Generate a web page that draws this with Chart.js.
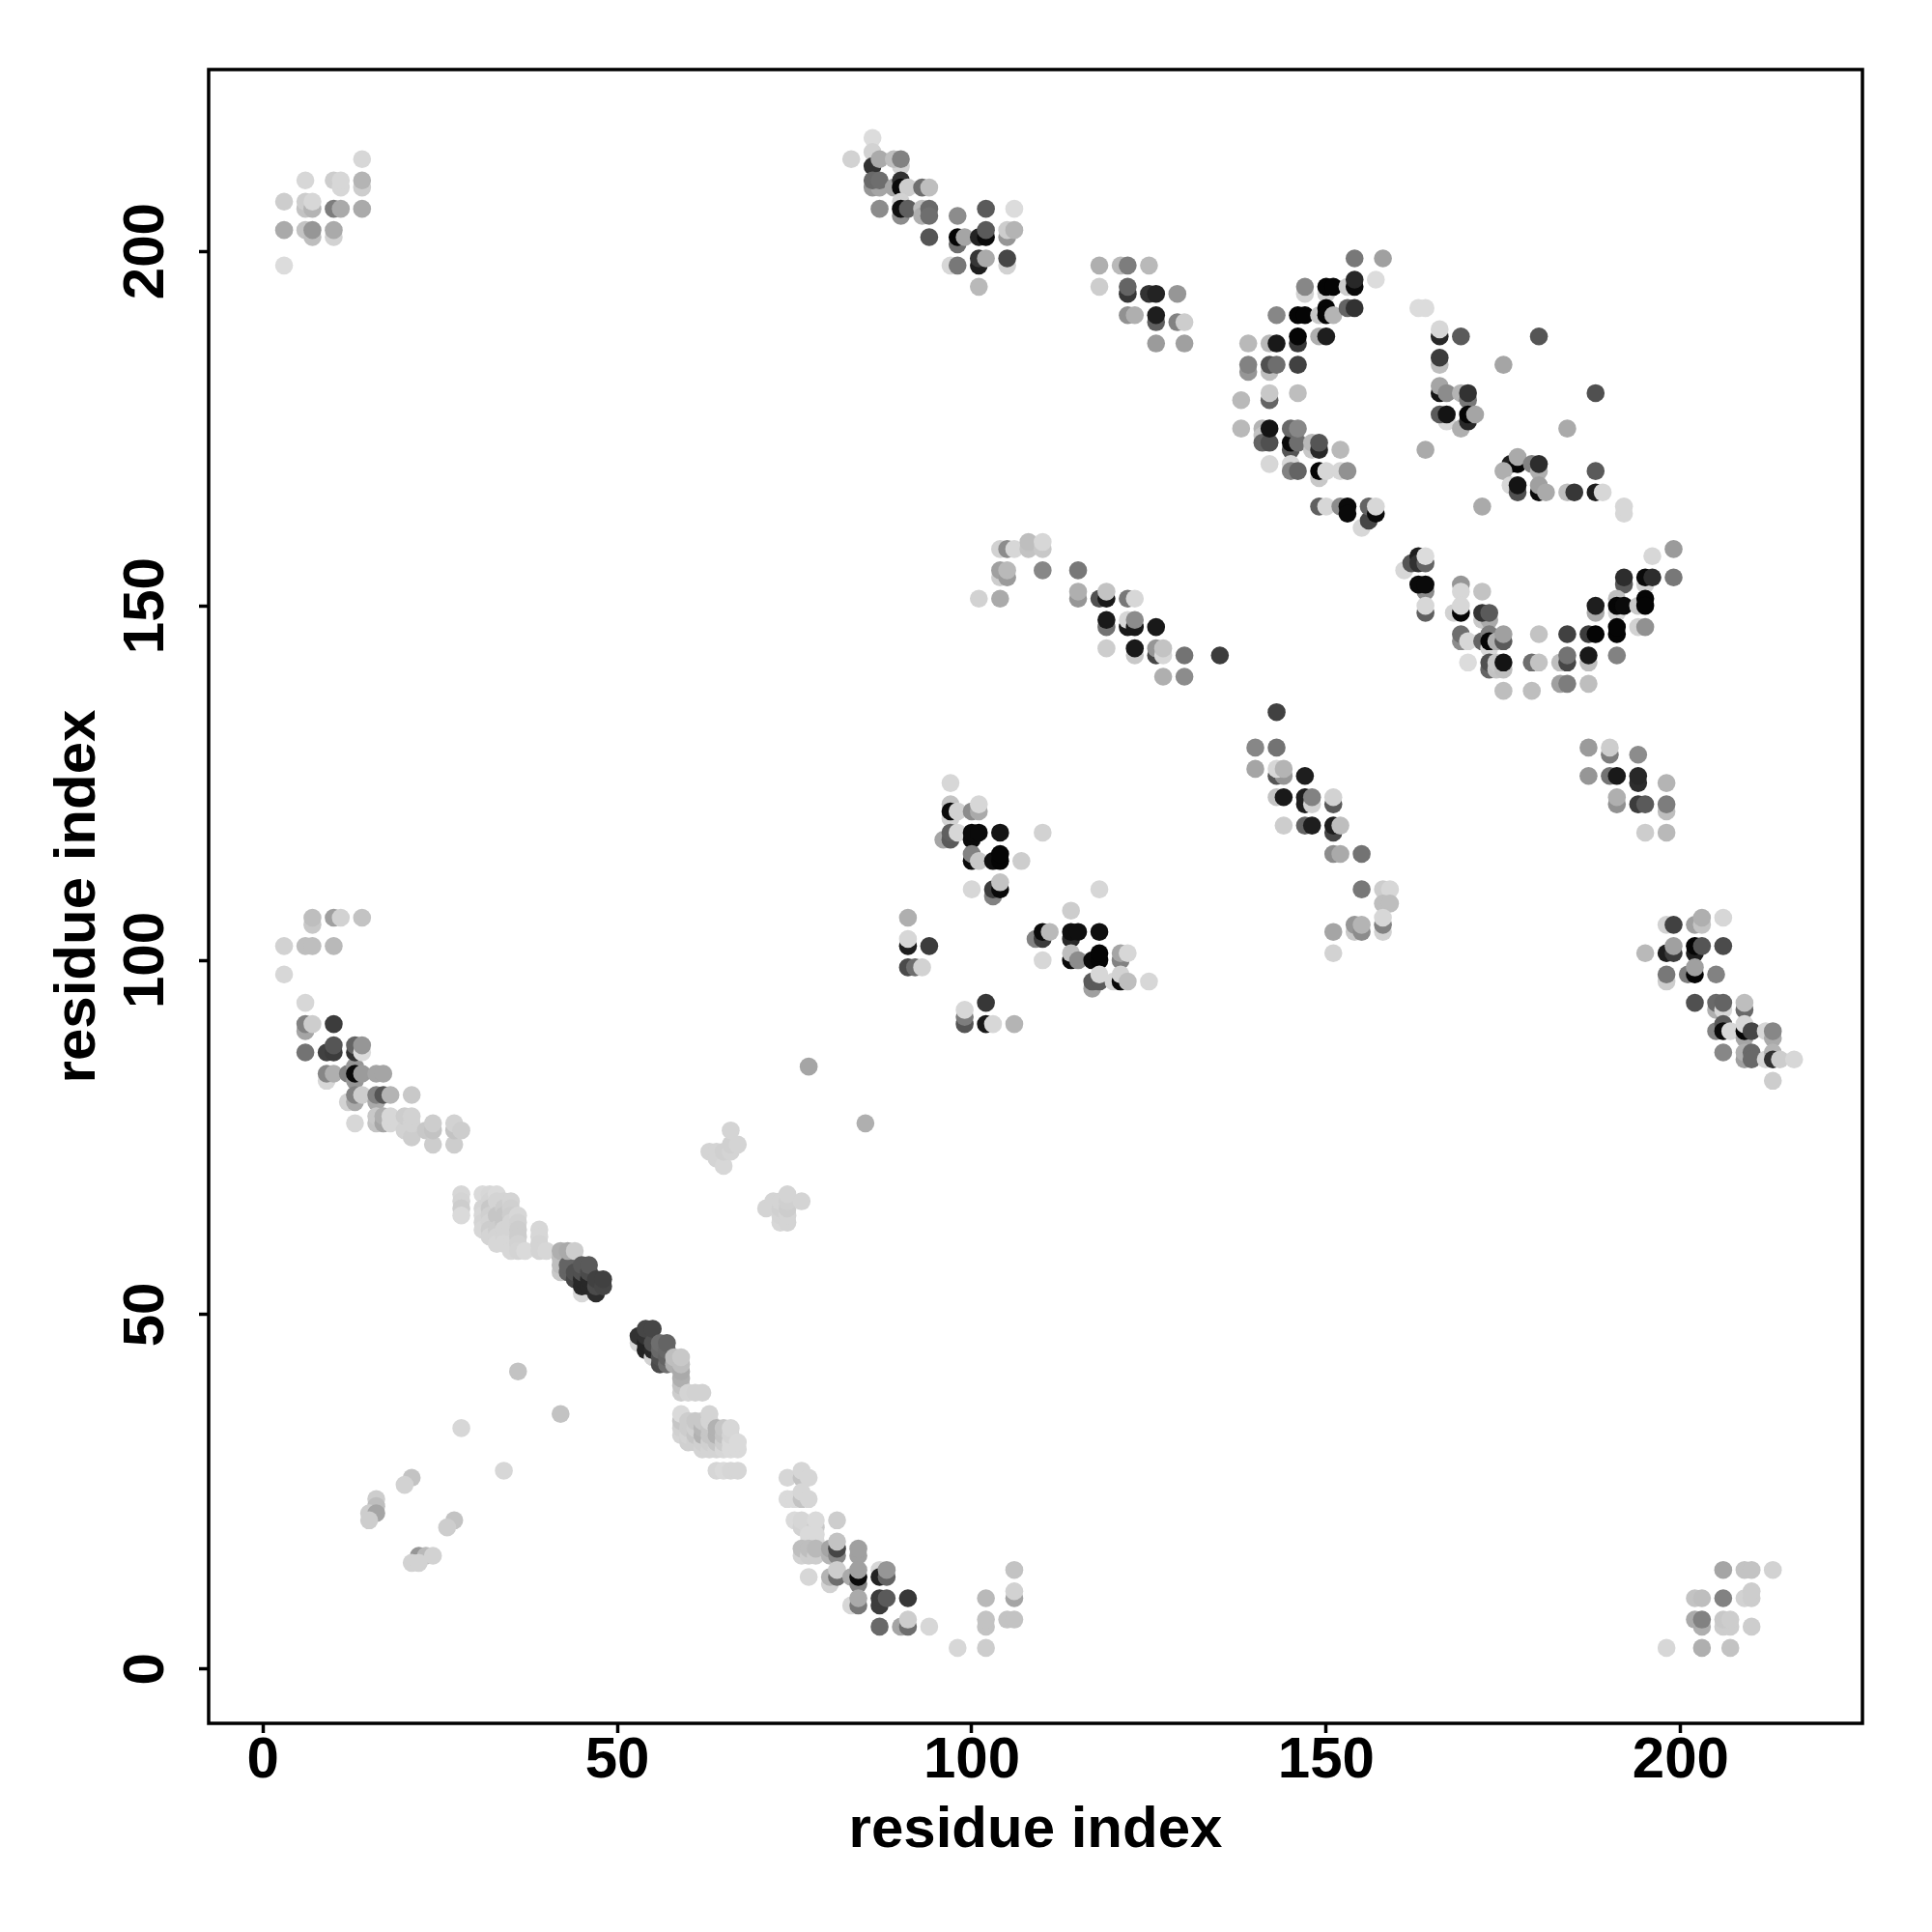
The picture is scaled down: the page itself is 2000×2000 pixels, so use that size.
<!DOCTYPE html>
<html>
<head>
<meta charset="utf-8">
<script src="https://cdn.jsdelivr.net/npm/chart.js@4"></script>
<style>
  html, body { margin: 0; padding: 0; background: #fff; }
  #wrap { width: 2000px; height: 2000px; }
</style>
</head>
<body>
<div id="wrap"><canvas id="contactMap"></canvas></div>
<script>
// each contact is [residue i, residue j, grey level]
const tickValues = [0, 50, 100, 150, 200];
const axisTitle = "residue index";

const topLeftBlock = [
  [14,213,215],[6,210,215],[10,210,205],[11,209,215],[11,210,215],[14,209,205],[14,210,180],[3,207,205],
  [6,206,195],[6,207,205],[7,206,180],[7,207,215],[10,206,125],[11,206,170],[14,206,170],[3,203,170],
  [6,203,195],[7,202,190],[7,203,150],[10,202,210],[10,203,170],[3,198,220]
];
const topStrandA = [
  [86,216,220],[83,213,210],[86,214,210],[86,212,50],[90,212,210],[87,213,170],[89,213,190],[90,213,130],
  [86,209,150],[87,209,165],[86,210,105],[87,210,110],[89,209,165],[90,210,50],[90,209,10],[91,209,205],
  [93,209,110],[94,209,190],[87,206,140],[90,205,140],[90,207,210],[90,206,15],[91,206,95],[93,206,190],
  [93,205,175],[94,206,105],[94,205,110],[94,202,85],[98,205,140],[102,206,90],[106,206,220],[98,201,110],
  [98,202,5],[99,202,165],[101,202,35],[102,202,10],[102,203,90],[105,202,150],[105,203,205],[106,203,180],
  [97,198,215],[98,198,120],[101,198,30],[101,199,55],[102,199,170],[105,198,210],[105,199,70],[101,195,185]
];
const topStrandB = [
  [118,198,175],[121,198,185],[122,198,125],[125,198,185],[118,195,205],[122,194,55],[122,195,100],[125,194,50],
  [126,194,35],[129,194,150],[122,191,145],[123,191,175],[126,190,95],[126,191,30],[129,190,130],[130,190,205],
  [126,187,155],[130,187,160]
];
const arcUpper = [
  [154,199,120],[158,199,160],[157,196,220],[147,194,210],[147,195,135],[150,194,210],[150,195,5],[151,195,5],
  [153,195,205],[154,195,10],[154,196,40],[143,191,135],[146,191,5],[147,191,5],[149,191,200],[150,192,5],
  [150,191,5],[151,191,180],[153,192,100],[154,192,50],[163,192,220],[164,192,220],[139,187,185],[142,187,185],
  [143,187,25],[146,187,55],[146,188,5],[149,188,175],[150,188,30],[139,183,150],[139,184,130],[142,183,190],
  [142,184,80],[143,184,110],[146,184,65],[138,179,185],[142,179,100],[142,180,200],[146,180,190]
];
const arcMiddle = [
  [166,188,40],[166,189,215],[169,188,90],[180,188,85],[166,184,190],[166,185,60],[175,184,165],[166,180,20],
  [166,181,165],[167,180,140],[169,180,180],[170,179,120],[170,180,50],[188,180,80],[167,176,215],[166,177,90],
  [167,177,20],[169,175,175],[170,176,40],[170,177,5],[171,177,165],[184,175,170],[164,172,170]
];
const arcLower = [
  [138,175,185],[141,175,180],[141,174,195],[141,173,100],[142,173,80],[142,175,20],[145,172,85],[145,173,10],
  [145,175,105],[146,173,110],[146,175,135],[148,172,200],[148,173,185],[149,172,40],[149,173,85],[152,172,185],
  [142,170,215],[145,170,215],[145,169,130],[146,169,100],[149,168,200],[149,169,5],[150,169,215],[152,169,215],
  [153,169,145],[149,164,95],[150,164,215],[152,164,140],[153,164,10],[153,163,10],[155,161,215],[156,162,70],
  [156,164,100],[157,163,10],[157,164,215]
];
const arcRight = [
  [176,170,30],[177,170,5],[177,171,170],[175,169,175],[179,170,130],[180,169,175],[180,170,45],[188,169,90],
  [176,167,215],[177,166,80],[177,167,20],[180,166,10],[180,167,160],[181,166,170],[184,166,190],[185,166,55],
  [188,166,30],[189,166,215],[172,164,170],[192,163,215],[192,164,215]
];
const midStrand = [
  [104,158,210],[105,158,140],[106,158,215],[108,158,195],[108,159,190],[110,158,200],[110,159,215],[104,154,205],
  [104,155,160],[105,154,155],[105,155,185],[110,155,135],[115,155,120],[101,151,210],[104,151,170],[115,151,150],
  [115,152,175],[118,151,80],[119,151,25],[119,152,195],[122,151,120],[123,151,215],[119,147,115],[119,148,25],
  [122,147,25],[122,148,215],[123,147,25],[123,148,140],[126,147,25],[119,144,205],[123,143,200],[123,144,25],
  [126,143,70],[126,144,150],[127,143,215],[127,144,195],[130,143,115],[135,143,60],[127,140,175],[130,140,140]
];
const bowlLeft = [
  [161,155,215],[162,156,85],[163,157,30],[163,156,50],[164,156,100],[164,157,220],[164,152,140],[163,153,10],
  [164,153,10],[164,149,95],[164,150,215],[169,153,150],[169,152,215],[172,152,195],[168,149,210],[169,149,5],
  [169,150,215],[172,148,200],[173,148,170],[172,149,50],[173,149,90],[169,145,140],[169,146,110],[170,145,215],
  [172,145,100],[173,146,125],[173,144,215],[173,145,5],[174,145,175],[175,145,90],[175,146,160],[170,142,220],
  [173,141,100],[173,142,80],[174,141,195],[174,142,200],[175,141,190],[175,142,20]
];
const bowlRight = [
  [199,158,155],[196,157,215],[199,154,120],[192,153,90],[192,154,45],[195,153,210],[195,154,10],[196,154,45],
  [188,149,170],[188,150,30],[191,149,215],[191,151,190],[191,150,5],[192,150,10],[194,150,200],[195,151,5],
  [195,150,5],[194,147,210],[195,147,145],[191,146,5],[191,147,5],[184,146,65],[187,146,60],[188,146,5],
  [180,146,195],[191,143,130],[187,142,190],[187,143,25],[183,142,190],[184,142,70],[184,143,115],[179,142,110],
  [180,142,195],[183,139,160],[184,139,125],[187,139,190],[175,138,190],[179,138,190]
];
const crossBlockA = [
  [97,125,215],[97,122,195],[97,120,210],[97,121,10],[98,121,210],[100,121,140],[101,121,170],[101,122,215],
  [96,117,165],[97,117,90],[97,118,95],[98,118,215],[100,117,10],[100,118,10],[101,118,10],[104,118,20],
  [110,118,210],[100,114,10],[100,115,130],[101,114,200],[103,114,15],[104,114,5],[104,115,5],[107,114,205],
  [100,110,215],[103,109,130],[103,110,60],[104,110,10],[104,111,195]
];
const crossBlockB = [
  [118,110,215],[114,107,205],[109,103,130],[110,103,60],[110,104,10],[111,104,185],[114,103,40],[114,104,15],
  [115,104,15],[118,104,15],[110,100,215],[114,100,10],[114,101,190],[115,100,140],[117,100,10],[118,100,5],
  [118,101,5],[121,100,130],[121,101,165],[122,101,215],[117,96,160],[117,97,90],[118,97,90],[118,98,215],
  [120,97,215],[121,97,10],[121,98,210],[122,97,190],[125,97,215]
];
const crossBlockC = [
  [91,106,175],[91,102,30],[91,103,215],[94,102,60],[91,99,75],[92,99,110],[93,99,210],[102,94,55],
  [99,91,85],[99,92,125],[99,93,215],[102,91,25],[103,91,215],[106,91,180]
];
const rightStrandA = [
  [143,135,65],[140,130,135],[143,130,115],[140,127,165],[143,126,85],[144,126,150],[143,127,215],[144,127,180],
  [147,126,30],[143,123,195],[144,123,25],[147,122,30],[147,123,30],[148,122,210],[148,123,130],[151,122,90],
  [151,123,210],[144,119,205],[147,119,100],[148,119,30],[151,118,70],[151,119,30],[152,119,190],[151,115,140],
  [152,115,170],[155,115,115],[155,110,120],[158,110,205],[159,110,215],[158,108,190],[159,108,190],[151,104,165],
  [154,104,200],[154,105,150],[155,104,140],[155,105,180],[158,104,210],[158,105,130],[158,106,215],[151,101,210]
];
const rightStrandB = [
  [187,130,155],[190,129,125],[190,130,205],[194,129,140],[187,126,150],[190,126,115],[191,126,25],[194,125,45],
  [194,126,40],[198,125,180],[191,122,145],[191,123,175],[194,122,60],[195,122,90],[198,121,190],[198,122,125],
  [195,118,205],[198,118,185]
];
const rightEdge = [
  [198,105,210],[199,105,65],[202,105,160],[203,105,195],[203,106,175],[206,106,215],[195,101,185],[198,101,30],
  [199,101,60],[199,102,160],[202,101,30],[202,102,5],[203,102,85],[206,102,75],[198,97,205],[198,98,120],
  [201,98,125],[202,98,5],[202,99,160],[205,98,130],[202,94,80],[205,93,175],[205,94,105],[206,93,215],
  [206,94,100],[209,93,105],[209,94,190],[205,90,130],[206,91,90],[206,90,10],[207,90,215],[209,89,165],
  [209,90,5],[209,91,215],[210,90,70],[212,90,215],[213,89,170],[213,90,135],[206,87,135],[209,86,160],
  [209,87,175],[210,87,105],[210,86,105],[212,86,215],[213,87,180],[213,86,50],[214,86,205],[216,86,215],
  [213,83,205]
];
const leftUpper = [
  [7,105,200],[7,106,190],[10,106,160],[11,106,210],[14,106,195],[3,102,210],[6,102,190],[7,102,190],
  [10,102,185],[3,98,215],[6,94,215],[6,90,165],[6,91,130],[7,91,205],[10,91,60],[6,87,115],
  [9,87,65],[10,87,60],[10,88,85],[13,87,50],[13,88,100],[14,87,220],[14,88,150]
];
const leftStrand = [
  [9,83,215],[9,84,135],[10,84,175],[12,84,130],[13,85,150],[13,83,150],[13,84,10],[14,84,155],
  [16,84,165],[17,84,165],[12,80,210],[13,80,170],[13,81,130],[14,81,205],[16,80,170],[16,81,130],
  [17,81,85],[18,81,180],[21,81,200],[13,77,215],[16,77,195],[16,78,200],[17,77,165],[17,78,175],
  [18,77,215],[18,78,215],[20,76,210],[20,78,205],[21,75,205],[21,77,210],[21,78,210],[23,76,200],
  [24,74,205],[24,76,195],[24,77,205],[27,74,205],[27,76,195],[27,77,210],[28,76,205]
];
const diagonalUpper = [
  [28,67,215],[28,66,212],[28,65,205],[28,64,218],[31,67,218],[31,65,212],[31,64,215],[31,63,212],
  [31,62,215],[32,67,215],[32,66,212],[32,65,200],[32,64,208],[32,63,212],[32,62,205],[32,61,212],
  [33,67,218],[33,66,212],[33,64,198],[33,62,205],[33,61,212],[33,60,215],[34,66,212],[34,65,205],
  [34,64,198],[34,63,198],[34,62,212],[34,61,212],[34,60,215],[35,66,212],[35,65,208],[35,64,205],
  [35,63,212],[35,60,215],[35,59,215],[36,64,215],[36,63,210],[36,62,205],[36,61,205],[36,60,210],
  [36,59,212],[37,59,218],[39,62,215],[39,61,215],[39,60,212],[39,59,212],[40,59,215],[42,56,200],
  [42,57,190],[42,58,190],[42,59,175],[43,56,100],[43,57,100],[43,59,170],[44,59,205],[44,55,70],
  [44,56,80],[45,53,215],[45,54,40],[45,55,40],[45,56,80],[45,57,90],[46,54,40],[46,55,40],
  [46,56,75],[46,57,90],[47,53,45],[47,54,75],[47,55,65],[48,54,70],[48,55,65]
];
const diagonalLower = [
  [53,46,215],[53,47,50],[54,45,35],[54,46,35],[54,47,50],[54,48,70],[55,44,210],[55,45,40],
  [55,46,80],[55,48,70],[56,43,75],[56,44,80],[56,45,105],[56,46,110],[57,43,110],[57,44,100],
  [57,45,105],[57,46,100],[58,43,175],[58,44,190],[59,39,205],[59,40,195],[59,41,175],[59,42,170],
  [59,43,190],[59,44,200],[60,39,212],[61,39,210],[62,39,210],[59,33,212],[59,34,208],[59,35,198],
  [59,36,218],[60,32,208],[60,33,212],[60,34,205],[60,35,205],[61,32,208],[61,33,198],[61,34,208],
  [61,35,200],[62,31,212],[62,32,208],[62,33,178],[62,34,182],[62,35,200],[63,31,212],[63,32,208],
  [63,33,198],[63,34,198],[63,35,212],[63,36,212],[64,31,212],[64,32,198],[64,33,178],[64,34,178],
  [65,31,215],[65,32,205],[65,33,195],[65,34,198],[66,31,218],[66,32,218],[66,33,212],[66,34,215],
  [67,31,218],[67,32,218],[64,28,214],[65,28,218],[66,28,214],[67,28,214]
];
const lowerStrand = [
  [74,27,214],[76,27,195],[76,28,214],[77,27,214],[74,24,218],[75,24,218],[76,24,195],[76,25,214],
  [77,24,214],[75,21,218],[76,20,210],[76,21,214],[77,20,214],[78,20,200],[78,21,218],[81,21,205],
  [77,18,218],[77,19,218],[78,18,218],[78,19,218],[76,16,210],[76,17,190],[77,16,205],[77,17,190],
  [78,16,205],[78,17,185],[80,16,180],[80,17,165],[81,16,135],[81,17,70],[81,18,195],[84,16,160],
  [84,17,160],[77,13,215],[80,12,210],[80,13,180],[81,13,110],[81,14,205],[83,13,170],[84,12,130],
  [84,13,10],[84,14,160],[87,14,215],[87,13,35],[88,13,100],[88,14,150],[83,9,215],[84,9,120],
  [84,10,170],[87,9,60],[87,10,60],[88,10,90],[91,10,55],[87,6,105],[90,6,165],[91,6,110],
  [91,7,205],[94,6,215],[98,3,215],[102,3,205],[102,10,185],[102,6,195],[102,7,195],[105,7,195],
  [106,7,195],[106,14,195],[106,10,165],[106,11,210]
];
const bottomRightBlock = [
  [198,3,215],[203,3,175],[207,3,195],[202,10,195],[203,10,190],[206,10,130],[206,14,165],[209,14,195],
  [210,14,195],[213,14,210],[209,10,210],[210,10,205],[210,11,205],[203,6,175],[202,7,170],[203,7,130],
  [206,6,205],[207,6,205],[206,7,200],[207,7,205],[210,6,205]
];
const offDiagonal = [
  [63,73,212],[64,72,212],[64,73,212],[65,71,215],[65,73,208],[66,73,212],[66,74,208],[66,76,212],
  [67,74,212],[71,65,212],[72,66,212],[73,63,215],[73,64,212],[73,65,208],[73,66,212],[74,63,212],
  [74,64,212],[74,65,205],[74,66,208],[74,67,212],[76,66,212],[77,85,165],[85,77,175],[36,42,195],
  [42,36,195],[28,34,215],[34,28,215],[21,27,195],[20,26,210],[16,24,205],[16,23,190],[15,22,205],
  [16,22,165],[15,21,205],[27,21,195],[26,20,205],[22,16,150],[23,16,185],[24,16,210],[21,15,210],
  [22,15,210]
];

const clusters = [
  topLeftBlock, topStrandA, topStrandB, arcUpper, arcMiddle, arcLower, arcRight, midStrand,
  bowlLeft, bowlRight, crossBlockA, crossBlockB, crossBlockC, rightStrandA, rightStrandB, rightEdge,
  leftUpper, leftStrand, diagonalUpper, diagonalLower, lowerStrand, bottomRightBlock, offDiagonal
];

const axisFont = { family: "'Liberation Sans'", size: 60, weight: "bold" };

// R style closed box round the plot
const boxPlugin = {
  id: "box",
  afterDraw(chart) {
    const a = chart.chartArea;
    const c = chart.ctx;
    c.save();
    c.strokeStyle = "#000";
    c.lineWidth = 3.5;
    c.strokeRect(a.left, a.top, a.right - a.left, a.bottom - a.top);
    c.restore();
  },
};

function setTicks(scale) {
  scale.ticks = tickValues.map((v) => ({ value: v }));
}

new Chart(document.getElementById("contactMap"), {
  type: "scatter",
  data: {
    datasets: clusters.map((rows) => ({
      data: rows.map((r) => ({ x: r[0], y: r[1] })),
      pointBackgroundColor: rows.map((r) => `rgb(${r[2]},${r[2]},${r[2]})`),
      pointBorderWidth: 0,
      pointRadius: 9.3,
    })),
  },
  options: {
    responsive: true,
    maintainAspectRatio: false,
    animation: false,
    devicePixelRatio: 1,
    layout: { padding: { top: 72, right: 72, left: 0, bottom: 0 } },
    plugins: { legend: { display: false }, tooltip: { enabled: false } },
    scales: {
      x: {
        min: -7.64,
        max: 225.64,
        afterBuildTicks: setTicks,
        afterFit(scale) { scale.height = 216; },
        border: { display: false },
        grid: { drawOnChartArea: false, tickLength: 10, tickColor: "#000", tickWidth: 3.5 },
        ticks: { color: "#000", font: axisFont, padding: -7, maxRotation: 0, autoSkip: false },
        title: { display: true, text: axisTitle, color: "#000", font: axisFont, padding: { top: 0, bottom: 69 } },
      },
      y: {
        min: -7.64,
        max: 225.64,
        afterBuildTicks: setTicks,
        afterFit(scale) { scale.width = 216; },
        border: { display: false },
        grid: { drawOnChartArea: false, tickLength: 10, tickColor: "#000", tickWidth: 3.5 },
        ticks: { color: "#000", font: axisFont, padding: 3, minRotation: 90, maxRotation: 90, crossAlign: "center", autoSkip: false },
        title: { display: true, text: axisTitle, color: "#000", font: axisFont, padding: { top: 45, bottom: 0 } },
      },
    },
  },
  plugins: [boxPlugin],
});
</script>
</body>
</html>
